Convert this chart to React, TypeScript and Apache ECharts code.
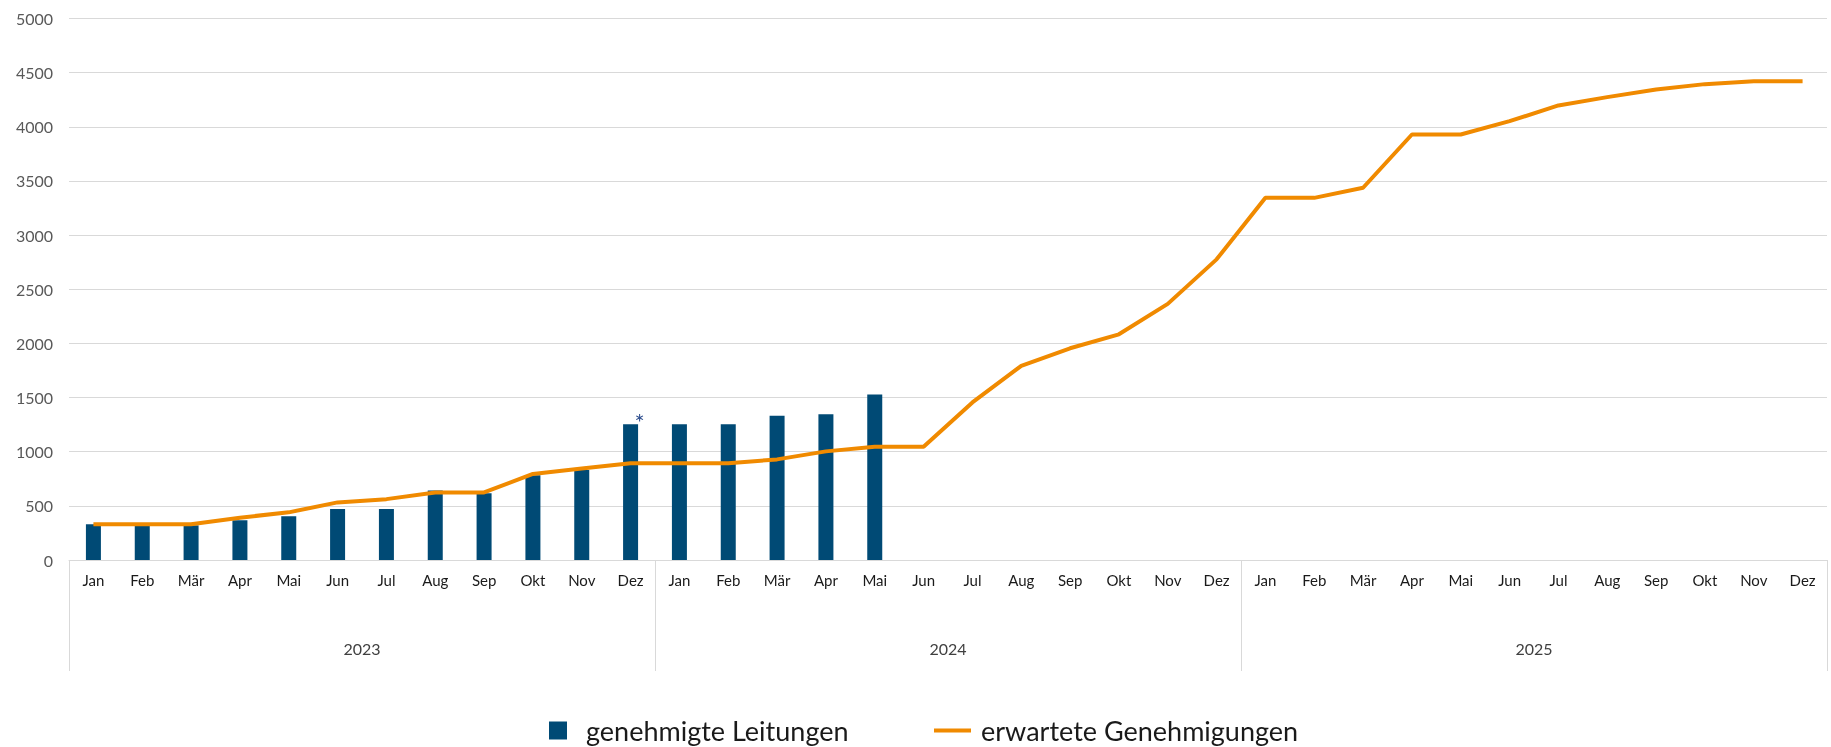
import React, { useEffect, useRef } from "react";
import * as echarts from "echarts";

const months = ["Jan", "Feb", "Mär", "Apr", "Mai", "Jun", "Jul", "Aug", "Sep", "Okt", "Nov", "Dez"];
const years = ["2023", "2024", "2025"];
const categories = [...months, ...months, ...months];

const barName = "genehmigte Leitungen";
const lineName = "erwartete Genehmigungen";

const approvedLines = [330, 320, 320, 367, 404, 471, 471, 642, 617, 783, 832, 1254, 1254, 1254, 1333, 1346, 1529];
const expectedApprovals = [
  330, 330, 330, 391, 440, 532, 562, 624, 624, 795, 844, 893,
  893, 893, 929, 1003, 1046, 1046, 1455, 1793, 1955, 2084, 2365, 2776,
  3344, 3344, 3437, 3929, 3929, 4052, 4197, 4274, 4345, 4394, 4421, 4421,
];
const starIndex = 11;

const yTicks = { min: 0, max: 5000, interval: 500 };

export default function App() {
  const ref = useRef<HTMLDivElement>(null);
  useEffect(() => {
    if (!ref.current) return;
    const chart = echarts.init(ref.current, undefined, { renderer: "svg" });
    const barData = categories.map((_, i) => {
      const v = i < approvedLines.length ? approvedLines[i] : null;
      if (i === starIndex) {
        return {
          value: v,
          label: {
            show: true,
            formatter: "*",
            position: "top",
            offset: [9, 14],
            color: "#2f4f8f",
            fontSize: 24,
            fontFamily: "Lato",
          },
        };
      }
      return v;
    });
    chart.setOption({
      animation: false,
      textStyle: { fontFamily: "Lato" },
      grid: { left: 69, right: 4, top: 18.5, bottom: 187, containLabel: false },
      legend: [
        {
          data: [barName],
          left: 544,
          top: 712,
          itemWidth: 18,
          itemHeight: 18,
          icon: "rect",
          textStyle: { fontSize: 27, color: "#1a1a1a", fontFamily: "Lato", padding: [0, 0, 0, 14] },
        },
        {
          data: [lineName],
          left: 929,
          top: 712,
          itemWidth: 37,
          itemHeight: 4,
          icon: "rect",
          textStyle: { fontSize: 27, color: "#1a1a1a", fontFamily: "Lato", padding: [0, 0, 0, 5] },
        },
      ],
      xAxis: [
        {
          type: "category",
          data: categories,
          position: "bottom",
          axisLine: { show: true, lineStyle: { color: "#d9d9d9", width: 1 } },
          axisTick: { show: false },
          axisLabel: { interval: 0, margin: 12, fontSize: 15, color: "#1a1a1a", fontFamily: "Lato" },
        },
        {
          type: "category",
          data: years,
          position: "bottom",
          gridIndex: 0,
          axisLine: { show: false },
          axisTick: { show: true, length: 111, lineStyle: { color: "#d9d9d9", width: 1 } },
          axisLabel: { margin: 80, fontSize: 16, color: "#404040", fontFamily: "Lato" },
        },
      ],
      yAxis: {
        type: "value",
        min: yTicks.min,
        max: yTicks.max,
        interval: yTicks.interval,
        axisLine: { show: false },
        axisTick: { show: false },
        axisLabel: { margin: 16, fontSize: 16, color: "#595959", fontFamily: "Lato", formatter: (v: number) => String(v) },
        splitLine: { lineStyle: { color: "#d9d9d9", width: 1 } },
      },
      series: [
        {
          name: barName,
          type: "bar",
          data: barData,
          barWidth: 15,
          itemStyle: { color: "#004a75" },
          xAxisIndex: 0,
        },
        {
          name: lineName,
          type: "line",
          data: expectedApprovals,
          xAxisIndex: 0,
          symbol: "none",
          lineStyle: { color: "#f08a00", width: 4 },
          itemStyle: { color: "#f08a00" },
        },
      ],
    });
    return () => chart.dispose();
  }, []);
  return <div ref={ref} style={{ position: "fixed", left: 0, top: 0, width: 1831, height: 747 }} />;
}
